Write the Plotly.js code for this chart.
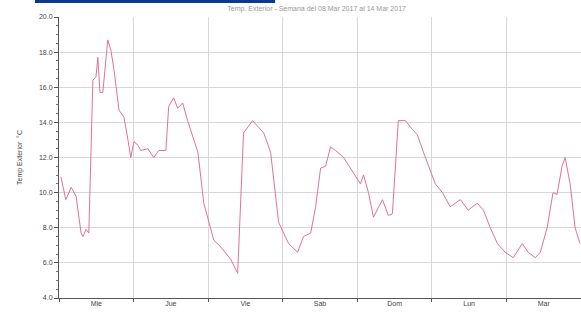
<!DOCTYPE html>
<html>
<head>
<meta charset="utf-8">
<script src="https://cdn.plot.ly/plotly-3.0.1.min.js"></script>
<style>html,body{margin:0;padding:0;background:#fff;}#chart{width:581px;height:314px;}</style>
</head>
<body>
<div id="chart"></div>
<script>
// hours since start of week (Wednesday 00:00)
const hours = [0.6,2.2,3.9,5.5,7.1,7.7,8.7,9.6,10.9,11.9,12.5,13.2,14.1,15.1,15.7,16.7,17.7,19.3,20.9,22.2,23.1,24.1,25.4,26.3,28.6,30.5,32.1,34.4,35.3,36.9,38.2,39.8,41.4,44.7,46.6,49.8,52.1,55.3,57.5,59.4,61.7,62.3,64.3,65.9,68.1,70.7,72.3,73.9,76.8,78.7,81.0,82.6,84.2,85.8,87.4,89.0,91.6,96.1,97.0,98.0,99.6,101.2,104.1,106.0,107.3,109.2,111.5,113.7,115.3,117.3,118.9,121.1,123.4,125.9,129.2,131.7,134.6,136.6,138.8,141.1,143.6,146.2,149.1,151.0,153.3,154.9,157.1,159.0,160.3,161.9,162.9,164.5,166.1,167.7];
const temps = [10.9,9.6,10.3,9.8,7.7,7.5,7.9,7.7,16.4,16.6,17.7,15.7,15.7,17.9,18.7,18.1,17.0,14.7,14.3,13.0,12.0,12.9,12.7,12.4,12.5,12.0,12.4,12.4,14.9,15.4,14.8,15.1,14.1,12.3,9.4,7.3,6.9,6.2,5.4,13.4,14.0,14.1,13.7,13.4,12.3,8.3,7.7,7.1,6.6,7.5,7.7,9.2,11.4,11.5,12.6,12.4,12.0,10.7,10.5,11.0,10.0,8.6,9.6,8.7,8.8,14.1,14.1,13.6,13.3,12.3,11.5,10.5,10.0,9.2,9.6,9.0,9.4,9.0,8.0,7.1,6.6,6.3,7.1,6.6,6.3,6.6,8.0,10.0,9.9,11.5,12.0,10.5,8.0,7.1];
const dayBounds = [0,24,48,72,96,120,144,168];
const dayMids = [12,36,60,84,108,132,156];
const dayLabels = ['Mie','Jue','Vie','Sab','Dom','Lun','Mar'];
const yTicks = [4,6,8,10,12,14,16,18,20];

const trace = {
  x: hours, y: temps, type: 'scatter', mode: 'lines',
  line: {color: '#e2719a', width: 1}, hoverinfo: 'skip', showlegend: false
};
const labelTrace = {x: [dayMids[0]], y: [4], xaxis: 'x2', yaxis: 'y', mode: 'markers',
  marker: {opacity: 0}, showlegend: false, hoverinfo: 'skip'};

const layout = {
  width: 581, height: 314,
  margin: {l: 59, r: 0, t: 17, b: 16},
  paper_bgcolor: '#fff', plot_bgcolor: '#fff',
  font: {family: 'Liberation Sans, Arial, sans-serif', size: 7, color: '#444'},
  title: {text: 'Temp. Exterior - Semana del 08 Mar 2017 al 14 Mar 2017',
    font: {size: 7, color: '#999'}, x: 0.545, xanchor: 'center', y: 0.972, yanchor: 'middle'},
  xaxis: {
    range: [0, 168], tickvals: dayBounds, ticktext: dayBounds.map(() => ''),
    showgrid: true, gridcolor: '#d8d8d8', gridwidth: 1,
    showline: true, linecolor: '#555', linewidth: 1,
    ticks: 'outside', ticklen: 3, tickcolor: '#555', zeroline: false
  },
  xaxis2: {
    overlaying: 'x', range: [0, 168], tickvals: dayMids, ticktext: dayLabels,
    side: 'bottom', showgrid: false, showline: false, ticks: '', zeroline: false,
    tickfont: {size: 7, color: '#444'}
  },
  yaxis: {
    range: [4, 20], tickvals: yTicks, tickformat: '.1f',
    showgrid: true, gridcolor: '#d8d8d8', gridwidth: 1,
    showline: true, linecolor: '#555', linewidth: 1,
    ticks: 'outside', ticklen: 4, tickcolor: '#555', zeroline: false,
    minor: {dtick: 0.5, ticks: 'outside', ticklen: 2, tickcolor: '#777', showgrid: false},
    title: {text: 'Temp Exterior  °C', font: {size: 7, color: '#444'}, standoff: 15}
  },
  shapes: [{type: 'rect', xref: 'paper', yref: 'paper', x0: -0.046, x1: 0.414, y0: 1.05, y1: 1.062,
    fillcolor: '#0b3a8c', line: {width: 0}, layer: 'above'}]
};
Plotly.newPlot('chart', [trace, labelTrace], layout, {staticPlot: true, displayModeBar: false});
</script>
</body>
</html>
